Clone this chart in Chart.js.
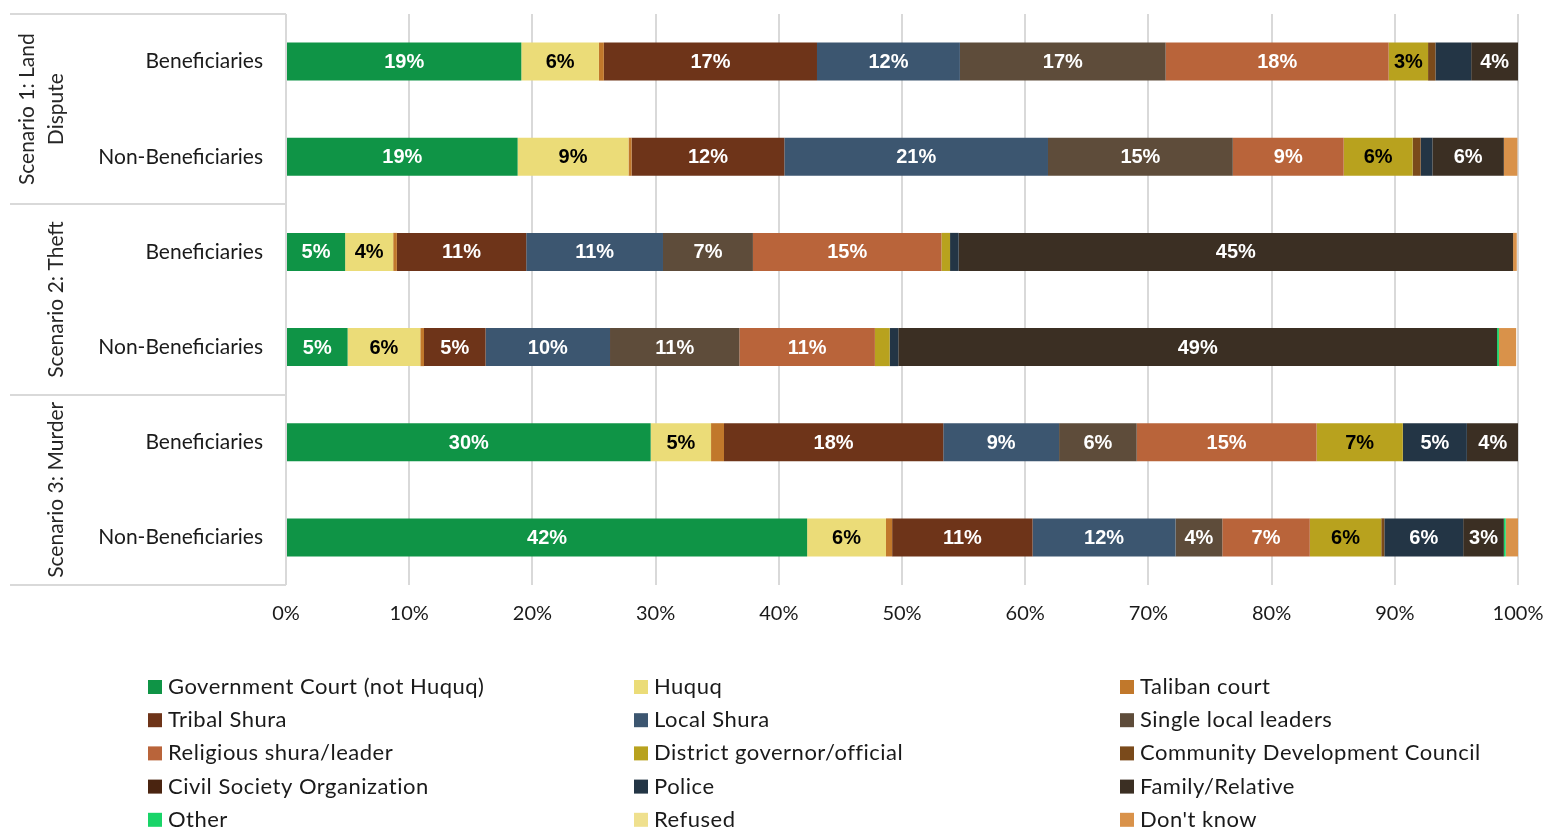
<!DOCTYPE html>
<html>
<head>
<meta charset="utf-8">
<script src="https://cdn.jsdelivr.net/npm/chart.js@4.4.0/dist/chart.umd.min.js"></script>
<style>
html, body { margin: 0; padding: 0; background: #fff; }
</style>
</head>
<body>
<canvas id="bar-chart" width="1546" height="828"></canvas>
<script>
// rows, top to bottom
var groups = ["Beneficiaries", "Non-Beneficiaries", "Beneficiaries", "Non-Beneficiaries", "Beneficiaries", "Non-Beneficiaries"];
var scenarios = [["Scenario 1: Land", "Dispute"], ["Scenario 2: Theft"], ["Scenario 3: Murder"]];
var xTicks = [0, 10, 20, 30, 40, 50, 60, 70, 80, 90, 100];

// share of answers (%) per source, one value per row
var govCourt    = [19.1, 18.8, 4.8, 5.0, 29.6, 42.3];
var huquq       = [6.3, 9.0, 3.9, 5.9, 4.9, 6.4];
var taliban     = [0.4, 0.25, 0.3, 0.3, 1.05, 0.5];
var tribalShura = [17.3, 12.4, 10.5, 5.0, 17.8, 11.4];
var localShura  = [11.6, 21.4, 11.1, 10.1, 9.4, 11.6];
var singleLocal = [16.7, 15.0, 7.3, 10.5, 6.3, 3.8];
var religious   = [18.1, 9.0, 15.3, 11.0, 14.6, 7.1];
var district    = [3.2, 5.6, 0.7, 1.2, 7.0, 5.8];
var cdc         = [0.6, 0.65, 0, 0, 0, 0.25];
var cso         = [0, 0, 0, 0, 0, 0];
var police      = [2.9, 0.95, 0.7, 0.7, 5.2, 6.4];
var family      = [3.8, 5.8, 45.0, 48.6, 4.2, 3.3];
var other       = [0, 0, 0, 0.15, 0, 0.15];
var refused     = [0, 0, 0, 0, 0, 0];
var dontKnow    = [0, 1.1, 0.3, 1.4, 0, 1.0];

var sources = [
	["Government Court (not Huquq)", govCourt, "#0f9446"],
	["Huquq", huquq, "#ebdc78"],
	["Taliban court", taliban, "#c1782b"],
	["Tribal Shura", tribalShura, "#6e3419"],
	["Local Shura", localShura, "#3c5670"],
	["Single local leaders", singleLocal, "#5e4c3a"],
	["Religious shura/leader", religious, "#b9643a"],
	["District governor/official", district, "#b8a21e"],
	["Community Development Council", cdc, "#7a4a1b"],
	["Civil Society Organization", cso, "#4a2410"],
	["Police", police, "#233545"],
	["Family/Relative", family, "#3b2f23"],
	["Other", other, "#19d468"],
	["Refused", refused, "#efe08e"],
	["Don't know", dontKnow, "#d9924a"]
];
// labels on these come out in black
var darkText = ["Huquq", "District governor/official", "Refused"];

var datasets = sources.map(function(s){
	return {
		label: s[0],
		data: s[1],
		backgroundColor: s[2],
		borderWidth: 0,
		barPercentage: 0.8,
		categoryPercentage: 0.5
	};
});

var uiFont = "Lato, 'Noto Sans', sans-serif";

// keep tick labels from pushing the plot area around
function noOverhang(s){
	s.paddingTop = 0;
	s.paddingBottom = 0;
	s.paddingLeft = 0;
	s.paddingRight = 0;
}

// percent labels inside the segments
var segLabels = {
	id: "segLabels",
	afterDatasetsDraw: function(chart){
		var ctx = chart.ctx;
		ctx.save();
		ctx.font = "bold 20px 'Liberation Sans', Arial, sans-serif";
		ctx.textAlign = "center";
		ctx.textBaseline = "middle";
		chart.data.datasets.forEach(function(ds, i){
			var meta = chart.getDatasetMeta(i);
			meta.data.forEach(function(bar, j){
				var v = ds.data[j];
				if (v < 3) return;
				ctx.fillStyle = darkText.indexOf(ds.label) >= 0 ? "#000" : "#fff";
				ctx.fillText(Math.round(v) + "%", (bar.x + bar.base) / 2, bar.y + 1);
			});
		});
		ctx.restore();
	}
};

// scenario column + the rules between groups
var groupTable = {
	id: "groupTable",
	afterDraw: function(chart){
		var ctx = chart.ctx;
		var y = chart.scales.y;
		var right = chart.chartArea.left;
		ctx.save();
		ctx.strokeStyle = "#d9d9d9";
		ctx.lineWidth = 2;
		for (var g = 0; g <= scenarios.length; g++) {
			var py = Math.round(y.getPixelForValue(g * 2 - 0.5));
			ctx.beginPath();
			ctx.moveTo(10, py);
			ctx.lineTo(right, py);
			ctx.stroke();
		}
		ctx.fillStyle = "#262626";
		ctx.font = "21px " + uiFont;
		ctx.textAlign = "center";
		ctx.textBaseline = "alphabetic";
		scenarios.forEach(function(lines, g){
			var cy = (y.getPixelForValue(g * 2) + y.getPixelForValue(g * 2 + 1)) / 2;
			ctx.save();
			ctx.translate(0, cy);
			ctx.rotate(-Math.PI / 2);
			var n = lines.length;
			lines.forEach(function(t, k){
				ctx.fillText(t, 0, 63 - (n - 1 - k) * 29);
			});
			ctx.restore();
		});
		ctx.restore();
	}
};

// legend in three columns under the axis
var gridLegend = {
	id: "gridLegend",
	afterDraw: function(chart){
		var ctx = chart.ctx;
		var colX = [148, 634, 1120];
		ctx.save();
		ctx.font = "22px " + uiFont;
		ctx.letterSpacing = "0.5px";
		ctx.textAlign = "left";
		ctx.textBaseline = "middle";
		chart.data.datasets.forEach(function(ds, i){
			var x = colX[i % 3];
			var cy = 687 + Math.floor(i / 3) * 33.2;
			ctx.fillStyle = ds.backgroundColor;
			ctx.fillRect(x, cy - 7, 14, 14);
			ctx.fillStyle = "#1a1a1a";
			ctx.fillText(ds.label, x + 20, cy);
		});
		ctx.restore();
	}
};

var chart1 = new Chart(document.getElementById("bar-chart"), {
	type: "bar",
	data: { labels: groups, datasets: datasets },
	options: {
		indexAxis: "y",
		responsive: false,
		animation: false,
		devicePixelRatio: 1,
		layout: { padding: { left: 10, top: 14, right: 28, bottom: 0 } },
		plugins: {
			legend: { display: false },
			tooltip: { enabled: false }
		},
		scales: {
			x: {
				stacked: true,
				min: 0,
				max: 100,
				afterBuildTicks: function(s){ s.ticks = xTicks.map(function(v){ return { value: v }; }); },
				afterFit: function(s){ s.height = 243; noOverhang(s); },
				grid: { color: "#d9d9d9", lineWidth: 2, drawTicks: false },
				border: { display: false },
				ticks: {
					padding: 17,
					color: "#1a1a1a",
					font: { family: uiFont, size: 20 },
					callback: function(v){ return v + "%"; }
				}
			},
			y: {
				stacked: true,
				afterFit: function(s){ s.width = 276; noOverhang(s); },
				grid: { display: false },
				border: { display: false },
				ticks: {
					padding: 15,
					crossAlign: "near",
					color: "#1a1a1a",
					font: { family: uiFont, size: 21 }
				}
			}
		}
	},
	plugins: [segLabels, groupTable, gridLegend]
});
</script>
</body>
</html>
